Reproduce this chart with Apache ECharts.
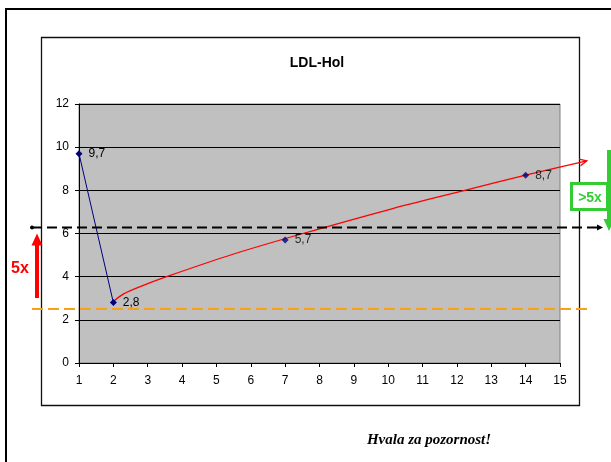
<!DOCTYPE html>
<html>
<head>
<meta charset="utf-8">
<script src="https://cdn.jsdelivr.net/npm/echarts@6/dist/echarts.min.js"></script>
<style>
  html, body { margin: 0; padding: 0; background: #fff; }
  #chart { width: 611px; height: 462px; }
</style>
</head>
<body>
<div id="chart"></div>
<script>
// Measured LDL cholesterol (x = visit number)
const measureX = [1, 2, 7, 14];
const measureY = [9.7, 2.8, 5.7, 8.7];

// Hand-drawn trend after the drop
const trendX = [2.0, 2.3, 2.8, 3.55, 5.5, 7.52, 10, 12.23, 14, 15.78];
const trendY = [2.85, 3.2, 3.55, 4.0, 5.05, 6.0, 7.1, 8.0, 8.71, 9.37];

// Reference levels
const upperLevel = [6.28];
const lowerLevel = [2.5];

const chart = echarts.init(document.getElementById('chart'), null, { renderer: 'canvas' });

const points = measureX.map((x, i) => [x, measureY[i]]);
const trend = trendX.map((x, i) => [x, trendY[i]]);
const commaLabel = p => String(p.value[1]).replace('.', ',');
const sans = 'Liberation Sans, Arial, sans-serif';

const markerStyle = {
  symbol: 'diamond',
  symbolSize: 7,
  itemStyle: { color: '#000080' },
  label: {
    show: true, position: 'right', distance: 6,
    formatter: commaLabel, color: '#000', fontSize: 12, fontFamily: sans
  },
  z: 6
};

chart.setOption({
  animation: false,
  backgroundColor: '#fff',
  title: {
    text: 'LDL-Hol',
    left: 312, top: 51, textAlign: 'center',
    textStyle: { fontFamily: sans, fontWeight: 'bold', fontSize: 14, color: '#000' }
  },
  grid: {
    left: 79, top: 104, width: 481, height: 259,
    show: true, backgroundColor: '#c0c0c0', borderColor: '#808080', borderWidth: 1
  },
  xAxis: {
    type: 'value', min: 1, max: 15, interval: 1,
    axisLine: { lineStyle: { color: '#000', width: 1 } },
    axisTick: { length: 4, lineStyle: { color: '#000' } },
    splitLine: { show: false },
    axisLabel: { color: '#000', fontSize: 12, fontFamily: sans, margin: 12 }
  },
  yAxis: {
    type: 'value', min: 0, max: 12, interval: 2,
    axisLine: { show: true, lineStyle: { color: '#000', width: 1 } },
    axisTick: { show: true, length: 4, lineStyle: { color: '#000' } },
    splitLine: { lineStyle: { color: '#000', width: 1 } },
    axisLabel: { color: '#000', fontSize: 12, fontFamily: sans, margin: 10 }
  },
  series: [
    Object.assign({
      type: 'line',
      data: points.slice(0, 2),
      lineStyle: { color: '#000080', width: 1 }
    }, markerStyle),
    Object.assign({
      type: 'scatter',
      data: points.slice(2)
    }, markerStyle),
    {
      // trend curve with an open arrowhead, allowed to run past the plot edge
      type: 'custom',
      clip: false,
      data: trend,
      encode: { x: 0, y: 1 },
      renderItem: function (params, api) {
        if (params.dataIndex !== 0) return null;
        const pts = trend.map(p => api.coord(p));
        const a = pts[pts.length - 2], b = pts[pts.length - 1];
        const ang = Math.atan2(b[1] - a[1], b[0] - a[0]);
        const len = 8, spread = 0.45;
        return {
          type: 'group',
          children: [
            { type: 'polyline', shape: { points: pts, smooth: 0.3 },
              style: { stroke: '#ff0000', lineWidth: 1.3, fill: null } },
            { type: 'polyline', shape: { points: [
                [b[0] - len * Math.cos(ang - spread), b[1] - len * Math.sin(ang - spread)],
                b,
                [b[0] - len * Math.cos(ang + spread), b[1] - len * Math.sin(ang + spread)] ] },
              style: { stroke: '#ff0000', lineWidth: 1.3, fill: null } }
          ]
        };
      },
      z: 4
    }
  ]
});

// Frame, reference lines and annotations placed from the y scale
const yHi = chart.convertToPixel({ yAxisIndex: 0 }, upperLevel[0]);
const yLo = chart.convertToPixel({ yAxisIndex: 0 }, lowerLevel[0]);
const green = '#33cc33';

chart.setOption({
  graphic: [
    { type: 'rect', shape: { x: 6, y: 9, width: 700, height: 600 },
      style: { fill: null, stroke: '#000', lineWidth: 2 }, z: 1 },
    { type: 'rect', shape: { x: 41.5, y: 37.5, width: 538, height: 368 },
      style: { fill: null, stroke: '#111', lineWidth: 1.3 }, z: 1 },

    { type: 'line', shape: { x1: 32, y1: yHi, x2: 597, y2: yHi },
      style: { stroke: '#000', lineWidth: 2, lineDash: [10, 5] }, z: 20 },
    { type: 'circle', shape: { cx: 32, cy: yHi, r: 2 }, style: { fill: '#000' }, z: 20 },
    { type: 'polygon', shape: { points: [[597, yHi - 3], [603, yHi], [597, yHi + 3]] },
      style: { fill: '#000' }, z: 20 },

    { type: 'line', shape: { x1: 32, y1: yLo, x2: 590, y2: yLo },
      style: { stroke: '#f8a01c', lineWidth: 2, lineDash: [11, 5] }, z: 20 },

    { type: 'polygon',
      shape: { points: [[35, yLo - 11], [35, yHi + 18], [31.5, yHi + 18], [37, yHi + 6],
                        [42.5, yHi + 18], [39, yHi + 18], [39, yLo - 11]] },
      style: { fill: '#ff0000' }, z: 20 },
    { type: 'text', x: 20, y: 269,
      style: { text: '5x', fill: '#ff0000', font: 'bold 16px ' + sans,
               textAlign: 'center', textVerticalAlign: 'middle' }, z: 20 },

    { type: 'rect', shape: { x: 571.5, y: 183.5, width: 36, height: 26 },
      style: { fill: '#fff', stroke: green, lineWidth: 3 }, z: 21 },
    { type: 'text', x: 590, y: 198,
      style: { text: '>5x', fill: green, font: 'bold 14px ' + sans,
               textAlign: 'center', textVerticalAlign: 'middle' }, z: 22 },
    { type: 'polygon',
      shape: { points: [[607, 150], [611, 150], [611, 219], [614.5, 219], [609, 231],
                        [603.5, 219], [607, 219]] },
      style: { fill: green }, z: 22 },

    { type: 'text', x: 429, y: 440,
      style: { text: 'Hvala za pozornost!', fill: '#000',
               font: 'italic bold 15px "Liberation Serif", "Times New Roman", serif',
               textAlign: 'center', textVerticalAlign: 'middle' }, z: 20 }
  ]
});
</script>
</body>
</html>
